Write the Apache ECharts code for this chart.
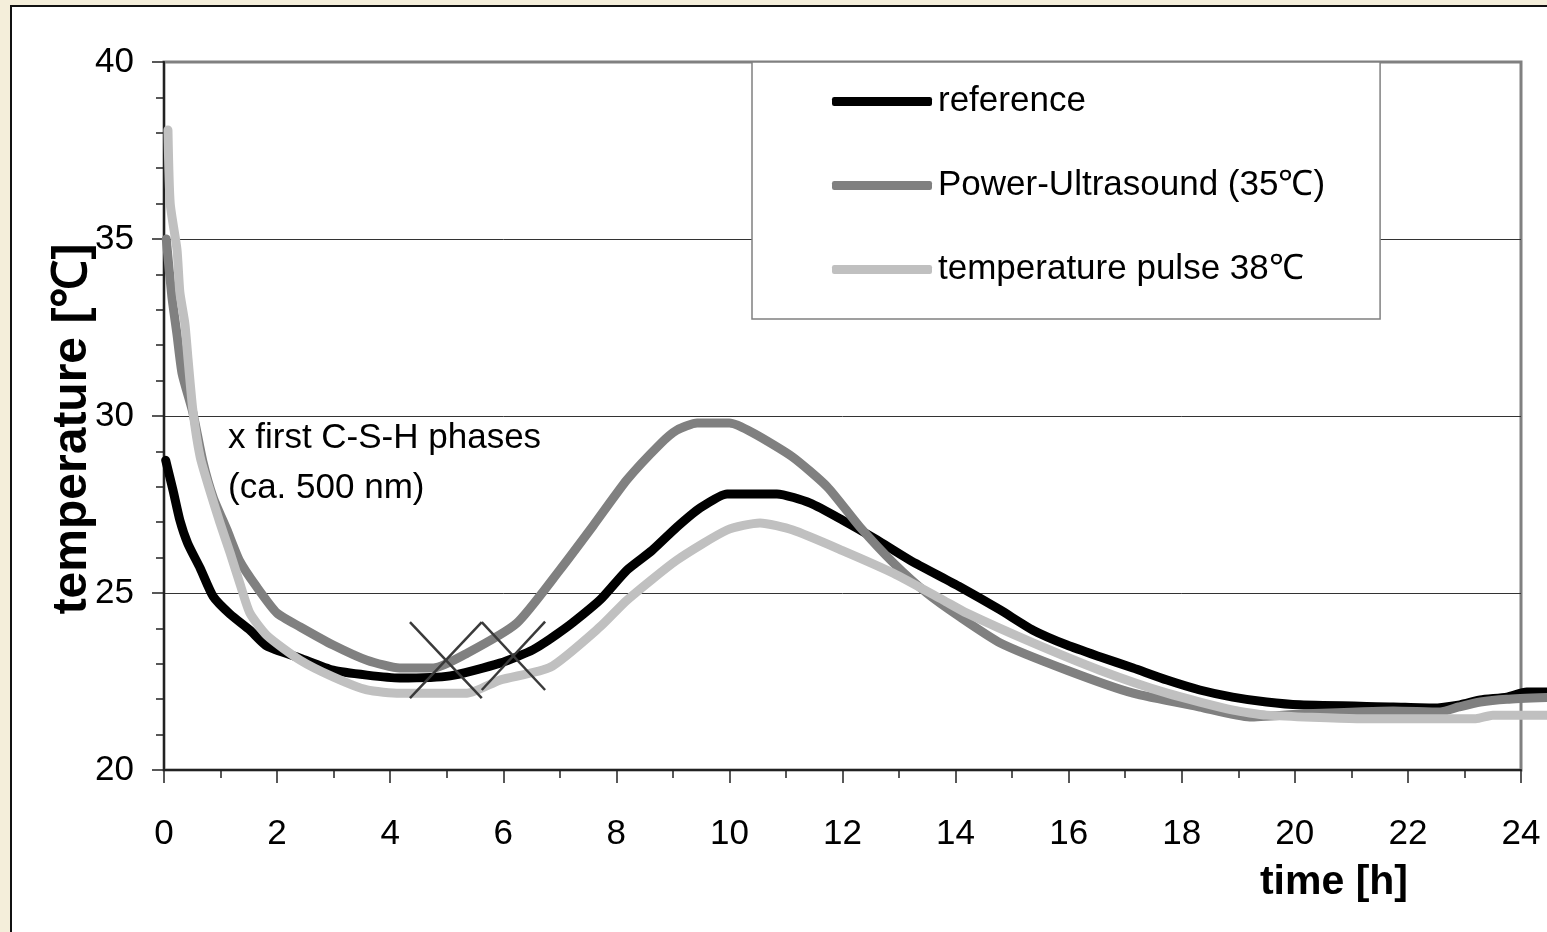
<!DOCTYPE html>
<html>
<head>
<meta charset="utf-8">
<script src="https://cdn.jsdelivr.net/npm/echarts@6/dist/echarts.min.js"></script>
<style>
  html, body { margin: 0; padding: 0; width: 1547px; height: 932px; overflow: hidden; background: #F4EEDA; }
  #frame { position: absolute; left: 10px; top: 5px; width: 1600px; height: 1000px; background: #fff; border-left: 2px solid #111; border-top: 2px solid #111; }
  #chart { position: absolute; left: 0; top: 0; width: 1547px; height: 932px; }
</style>
</head>
<body>
<div id="frame"></div>
<div id="chart"></div>
<script>
// ---- data ----
const seriesNames = ['reference', 'Power-Ultrasound (35℃)', 'temperature pulse 38℃'];

const refTime = [0.03, 0.16, 0.28, 0.42, 0.64, 0.87, 1.17, 1.52, 1.82, 2.41, 2.99, 3.59, 4.17, 5.06, 5.94, 6.53, 7.13, 7.71, 8.19, 8.63, 9.07, 9.48, 9.96, 10.84, 11.43, 12.0, 12.61, 13.19, 14.08, 14.79, 15.37, 15.97, 16.55, 17.14, 17.74, 18.32, 18.9, 19.5, 20.09, 21.74, 22.44, 22.92, 23.28, 23.75, 24.1, 24.46];
const refTemp = [28.75, 27.9, 27.06, 26.4, 25.7, 24.9, 24.4, 23.95, 23.5, 23.16, 22.82, 22.68, 22.6, 22.66, 23.02, 23.4, 24.04, 24.8, 25.65, 26.2, 26.86, 27.4, 27.8, 27.8, 27.54, 27.06, 26.5, 25.93, 25.17, 24.52, 23.95, 23.53, 23.2, 22.88, 22.54, 22.26, 22.06, 21.92, 21.84, 21.78, 21.75, 21.84, 21.98, 22.06, 22.2, 22.2];

const usTime = [0.04, 0.14, 0.23, 0.32, 0.51, 0.69, 0.87, 1.11, 1.34, 1.64, 2.0, 2.41, 2.99, 3.59, 4.17, 4.76, 5.36, 6.24, 7.0, 7.59, 8.19, 8.77, 9.07, 9.43, 10.0, 10.42, 11.12, 11.73, 12.31, 12.9, 13.49, 14.08, 14.79, 15.97, 17.14, 18.32, 19.2, 20.1, 21.74, 22.57, 22.9, 23.28, 23.75, 24.46];
const usTemp = [35.0, 33.36, 32.3, 31.2, 30.1, 28.7, 27.7, 26.8, 25.9, 25.17, 24.43, 24.04, 23.53, 23.1, 22.88, 22.88, 23.3, 24.15, 25.65, 26.9, 28.2, 29.2, 29.6, 29.8, 29.8, 29.52, 28.84, 28.0, 26.86, 25.85, 25.0, 24.32, 23.59, 22.82, 22.17, 21.78, 21.5, 21.58, 21.67, 21.64, 21.78, 21.92, 22.0, 22.05];

const pulseTime = [0.07, 0.11, 0.23, 0.28, 0.37, 0.42, 0.51, 0.64, 0.81, 0.99, 1.17, 1.34, 1.52, 1.82, 2.41, 2.99, 3.59, 4.17, 5.36, 5.94, 6.83, 7.71, 8.19, 9.07, 9.96, 10.54, 11.12, 12.0, 12.9, 13.78, 14.2, 15.37, 16.55, 17.74, 18.91, 19.5, 21.1, 23.2, 23.5, 24.46];
const pulseTemp = [38.08, 36.0, 34.7, 33.5, 32.6, 31.7, 30.17, 28.84, 27.9, 26.98, 26.13, 25.28, 24.43, 23.8, 23.1, 22.63, 22.26, 22.17, 22.17, 22.54, 22.9, 24.04, 24.8, 25.93, 26.78, 26.98, 26.78, 26.2, 25.56, 24.8, 24.43, 23.59, 22.82, 22.17, 21.69, 21.55, 21.45, 21.45, 21.55, 21.55];

// "X" marks for first C-S-H phases: stroke end points [time, temperature]
const crossStrokes = [
  [[4.35, 24.18], [5.62, 22.03]],
  [[4.35, 22.03], [5.62, 24.18]],
  [[5.62, 24.18], [6.74, 22.26]],
  [[5.62, 22.26], [6.74, 24.19]]
];

const annotationLines = ['x first C-S-H phases', '(ca. 500 nm)'];
const xAxisTitle = 'time [h]';
const yAxisTitle = 'temperature [℃]';

// ---- chart ----
const FONT = '"Liberation Sans", Arial, sans-serif';
const zip = (a, b) => a.map((v, i) => [v, b[i]]);
const colors = ['#000000', '#808080', '#c0c0c0'];

// plot frame geometry (pixels)
const G = { left: 164, top: 62, right: 26, bottom: 162 };
const plotWidth = 1547 - G.left - G.right;        // width of the 0..24 h frame
const dataWidth = 1547 - G.left;                  // curves run on past the frame to the page edge
const xMax = 24, xMaxData = xMax * dataWidth / plotWidth;

const chart = echarts.init(document.getElementById('chart'), null, { renderer: 'canvas' });

const lineSeries = [
  [refTime, refTemp],
  [usTime, usTemp],
  [pulseTime, pulseTemp]
].map((d, i) => ({
  name: seriesNames[i],
  type: 'line',
  xAxisIndex: 1, yAxisIndex: 1,
  data: zip(d[0], d[1]),
  showSymbol: false,
  symbol: 'none',
  clip: false,
  smooth: 0.2,
  color: colors[i],
  lineStyle: { color: colors[i], width: 9, cap: 'round', join: 'round' },
  z: 3 + i,
  silent: true
}));

chart.setOption({
  animation: false,
  backgroundColor: 'transparent',
  textStyle: { fontFamily: FONT },
  grid: [{
    left: G.left, top: G.top, right: G.right, bottom: G.bottom,
    show: true, borderColor: '#808080', borderWidth: 3, backgroundColor: 'transparent'
  }, {
    left: G.left, top: G.top, right: 0, bottom: G.bottom, show: false
  }],
  legend: {
    data: seriesNames,
    orient: 'vertical',
    left: 752, top: 62,
    padding: [22, 55, 32, 80],
    itemGap: 49,
    itemWidth: 100, itemHeight: 9,
    icon: 'roundRect',
    backgroundColor: '#ffffff',
    borderColor: '#808080', borderWidth: 1.5, borderRadius: 0,
    textStyle: { fontSize: 35, color: '#000', fontFamily: FONT, lineHeight: 34, padding: [0, 0, 0, 1] },
    selectedMode: false,
    z: 10
  },
  xAxis: [{
    type: 'value', min: 0, max: xMax, interval: 2,
    name: xAxisTitle,
    nameLocation: 'end',
    nameGap: -113,
    nameMoveOverlap: false,
    nameTextStyle: { fontSize: 41, fontWeight: 'bold', color: '#000', align: 'right', verticalAlign: 'top', padding: [92, 0, 0, 0], fontFamily: FONT },
    axisLine: { show: true, onZero: false, lineStyle: { color: '#222', width: 2 } },
    axisTick: { show: true, inside: false, length: 13, lineStyle: { color: '#222', width: 1.5 } },
    minorTick: { show: true, splitNumber: 2, length: 8, lineStyle: { color: '#222', width: 1.5 } },
    axisLabel: { fontSize: 35, color: '#000', margin: 47, fontFamily: FONT },
    splitLine: { show: false }
  }, {
    gridIndex: 1, type: 'value', min: 0, max: xMaxData, show: false
  }],
  yAxis: [{
    type: 'value', min: 20, max: 40, interval: 5,
    name: yAxisTitle,
    nameLocation: 'middle',
    nameGap: 67,
    nameMoveOverlap: false,
    nameTextStyle: { fontSize: 48, fontWeight: 'bold', color: '#000', fontFamily: FONT, padding: [0, 26, 0, 0] },
    axisLine: { show: true, onZero: false, lineStyle: { color: '#222', width: 2 } },
    axisTick: { show: true, inside: false, length: 12, lineStyle: { color: '#222', width: 1.5 } },
    minorTick: { show: true, splitNumber: 5, length: 8, lineStyle: { color: '#222', width: 1.5 } },
    axisLabel: { fontSize: 35, color: '#000', margin: 30, fontFamily: FONT },
    splitLine: { show: true, lineStyle: { color: ['#333', '#333', '#333', '#333', '#808080'], width: 1 } }
  }, {
    gridIndex: 1, type: 'value', min: 20, max: 40, show: false
  }],
  graphic: [{
    type: 'text',
    left: 228, top: 413,
    silent: true,
    style: {
      text: annotationLines.join('\n'),
      font: '35px ' + FONT,
      fill: '#000',
      lineHeight: 50
    },
    z: 20
  }],
  series: lineSeries.concat([{
    name: 'marks',
    type: 'lines',
    coordinateSystem: 'cartesian2d',
    xAxisIndex: 0, yAxisIndex: 0,
    silent: true,
    z: 8,
    lineStyle: { color: '#3a3a3a', width: 2.5, opacity: 1, curveness: 0 },
    data: crossStrokes.map(s => ({ coords: s }))
  }])
});
</script>
</body>
</html>
